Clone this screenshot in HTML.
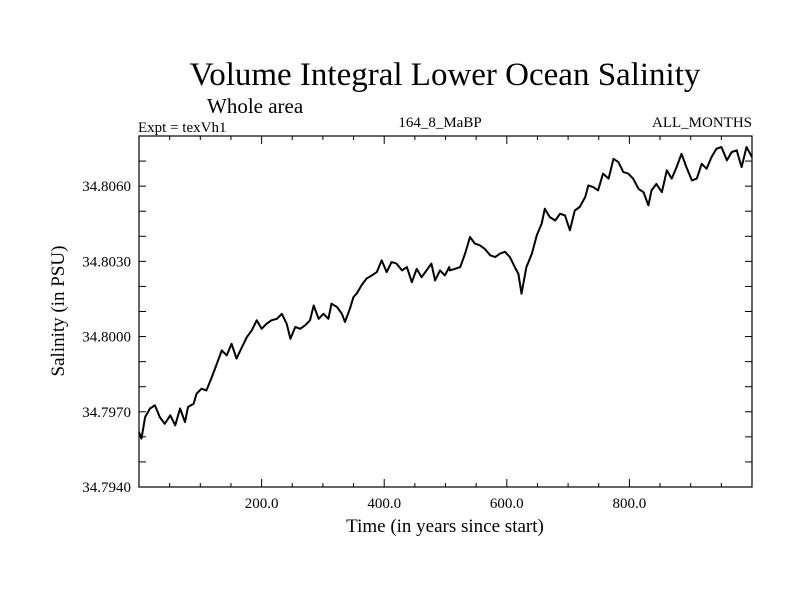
<!DOCTYPE html>
<html><head><meta charset="utf-8"><style>
body{margin:0;background:#fff;}
svg{display:block;font-family:"Liberation Serif",serif;}
</style></head><body>
<svg id="chart" width="800" height="600">
<rect width="800" height="600" fill="#fff"/>
<text x="445" y="85" font-size="33" text-anchor="middle">Volume Integral Lower Ocean Salinity</text>
<text x="207" y="113" font-size="21">Whole area</text>
<text x="138" y="132" font-size="15">Expt = texVh1</text>
<text x="440" y="127" font-size="15" text-anchor="middle">164_8_MaBP</text>
<text x="752" y="127" font-size="15" text-anchor="end">ALL_MONTHS</text>
<text x="445" y="532" font-size="19" text-anchor="middle">Time (in years since start)</text>
<text transform="translate(64,311) rotate(-90)" font-size="19" text-anchor="middle">Salinity (in PSU)</text>
<g id="ticks"></g>
<path id="line" fill="none" stroke="#000" stroke-width="2" stroke-linejoin="round"/>
<rect x="139" y="136" width="613" height="351" fill="none" stroke="#000" stroke-width="1.2"/>
</svg>
<script>
const years=[0,4,10,18,26,34,42,51,59,67,75,80,89,94,102,110,119,127,135,143,151,159,168,176,184,192,200,208,216,225,233,241,247,255,263,271,279,285,293,301,309,314,323,331,336,344,350,355,363,371,380,388,396,404,412,420,429,437,445,453,461,469,477,483,491,499,506,
507,515,524,532,540,548,556,564,573,581,589,597,605,613,619,624,632,641,649,657,662,670,679,687,695,703,711,719,728,733,741,749,757,766,774,782,790,798,806,815,823,831,836,844,853,861,869,877,885,893,902,910,918,926,934,942,950,959,967,975,983,991,1000];
const salinity=[34.79619,34.79593,34.79679,34.79713,34.79726,34.79679,34.79652,34.79686,34.79646,34.79713,34.79659,34.79719,34.79732,34.79772,34.79792,34.79785,34.79839,34.79892,34.79945,34.79925,34.79971,34.79912,34.79958,34.79998,34.80025,34.80065,34.80031,34.80051,34.80065,34.80071,34.80091,34.80051,34.79991,34.80038,34.80031,34.80045,34.80065,34.80124,34.80071,34.80091,34.80071,34.80131,34.80118,34.80091,34.80058,34.80111,34.80158,34.80171,34.80204,34.80231,34.80244,34.80257,34.80304,34.80257,34.80297,34.80291,34.80264,34.80277,34.80217,34.80270,34.80237,34.80264,34.80291,34.80224,34.80264,34.80244,34.80277,
34.80264,34.80270,34.80277,34.80331,34.80397,34.80371,34.80364,34.80350,34.80324,34.80317,34.80331,34.80338,34.80317,34.80277,34.80250,34.80171,34.80277,34.80331,34.80404,34.80451,34.80510,34.80477,34.80463,34.80490,34.80483,34.80424,34.80503,34.80517,34.80557,34.80603,34.80596,34.80583,34.80650,34.80630,34.80709,34.80696,34.80656,34.80650,34.80630,34.80589,34.80576,34.80523,34.80583,34.80609,34.80576,34.80663,34.80630,34.80676,34.80729,34.80676,34.80623,34.80630,34.80689,34.80669,34.80716,34.80749,34.80756,34.80703,34.80736,34.80743,34.80676,34.80756,34.80716];
const xTickLabels=["200.0","400.0","600.0","800.0"];
const xTickValues=[200,400,600,800];
const yTickLabels=["34.7940","34.7970","34.8000","34.8030","34.8060"];
const yTickValues=[34.794,34.797,34.800,34.803,34.806];

const X0=139,X1=752,Y0=487,Y1=136,XMIN=0,XMAX=1000,YMIN=34.794,YMAX=34.808;
const sx=v=>X0+(v-XMIN)/(XMAX-XMIN)*(X1-X0);
const sy=v=>Y0-(v-YMIN)/(YMAX-YMIN)*(Y0-Y1);
const NS='http://www.w3.org/2000/svg';
const g=document.getElementById('ticks');
function ln(x1,y1,x2,y2,name){const l=document.createElementNS(NS,'line');
l.setAttribute('x1',x1);l.setAttribute('y1',y1);l.setAttribute('x2',x2);l.setAttribute('y2',y2);
l.setAttribute('stroke','#000');l.setAttribute('stroke-width','1');


g.appendChild(l);}
function tx(x,y,s,anchor,name){const t=document.createElementNS(NS,'text');
t.setAttribute('x',x);t.setAttribute('y',y);t.setAttribute('font-size','15');t.setAttribute('text-anchor',anchor);t.textContent=s;


g.appendChild(t);}
for(let v=50;v<XMAX;v+=50){const x=sx(v);const major=v%200===0;const L=major?8:4;
ln(x,Y0,x,Y0-L,'x-tick');ln(x,Y1,x,Y1+L,'x-tick-top');}
for(let v=YMIN+0.001;v<YMAX-0.0001;v+=0.001){const y=sy(v);
ln(X0,y,X0+7,y,'y-tick');ln(X1,y,X1-7,y,'y-tick-right');}
xTickValues.forEach((v,i)=>tx(sx(v),508,xTickLabels[i],'middle','x-tick-label'));
yTickValues.forEach((v,i)=>tx(131,sy(v)+5,yTickLabels[i],'end','y-tick-label'));
let d='';years.forEach((yr,i)=>{d+=(i?'L':'M')+sx(yr).toFixed(1)+','+sy(salinity[i]).toFixed(1);});
document.getElementById('line').setAttribute('d',d);
</script>
</body></html>
